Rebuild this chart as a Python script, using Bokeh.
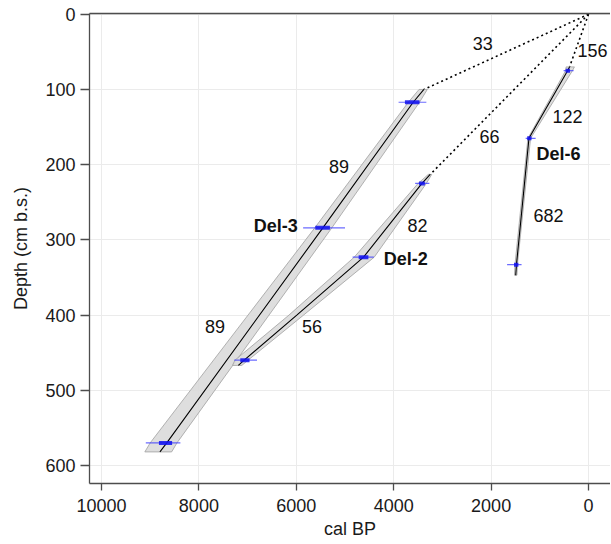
from bokeh.plotting import figure
from bokeh.models import Range1d, FixedTicker, LinearAxis
from bokeh.core.properties import value
from bokeh.embed import file_html
from bokeh.resources import INLINE

# ---------------- data ----------------
x_ticks = [10000, 8000, 6000, 4000, 2000, 0]
y_ticks = [0, 100, 200, 300, 400, 500, 600]

# Del-3 age-depth model
del3_depth = [100, 117, 284, 570, 582]
del3_age = [3380, 3600, 5455, 8660, 8800]
del3_band_young = [3310, 3470, 5270, 8450, 8560]
del3_band_old = [3480, 3700, 5620, 9000, 9110]
del3_s_depth = [117, 284, 570]
del3_s_age = [3600, 5455, 8665]
del3_s_min2 = [3330, 5000, 8380]
del3_s_max2 = [3900, 5860, 9090]
del3_s_min1 = [3470, 5310, 8550]
del3_s_max1 = [3770, 5610, 8820]

# Del-2 age-depth model
del2_depth = [213, 225, 323, 400, 460, 467]
del2_age = [3250, 3420, 4620, 5990, 7070, 7190]
del2_band_young = [3220, 3330, 4400, 5850, 6990, 7120]
del2_band_old = [3290, 3500, 4810, 6150, 7260, 7310]
del2_s_depth = [225, 323, 460]
del2_s_age = [3420, 4620, 7066]
del2_s_min2 = [3268, 4408, 6807]
del2_s_max2 = [3560, 4844, 7275]
del2_s_min1 = [3360, 4520, 6960]
del2_s_max1 = [3480, 4720, 7150]

# Del-6 age-depth model
del6_depth = [70, 75, 165, 333, 347]
del6_age = [390, 430, 1223, 1480, 1495]
del6_band_young = [290, 330, 1190, 1460, 1470]
del6_band_old = [460, 470, 1245, 1510, 1520]
del6_s_depth = [75, 165, 333]
del6_s_age = [430, 1223, 1479]
del6_s_min2 = [307, 1086, 1375]
del6_s_max2 = [512, 1291, 1672]
del6_s_min1 = [380, 1170, 1440]
del6_s_max1 = [470, 1260, 1530]

# extrapolation from the surface to each core top
surface_age = 0
surface_depth = 0

# annotations (sedimentation rates and core names)
label_text = ["33", "156", "122", "66", "Del-6", "89", "682", "Del-3", "82", "Del-2", "89", "56"]
label_age = [2172, -82, 430, 2035, 615, 5123, 820, 6420, 3512, 3754, 7668, 5676]
label_depth = [39, 48, 136, 162, 186, 202, 267, 281, 281, 326, 415, 415]
label_bold = [False, False, False, False, True, False, False, True, False, True, False, False]

FONT = "Liberation Sans"

p = figure(width=610, height=543, output_backend="svg", toolbar_location=None,
           x_range=Range1d(10246, -451), y_range=Range1d(624, -1),
           min_border_left=89, min_border_right=0, min_border_top=13, min_border_bottom=60,
           x_axis_label="cal BP", y_axis_label="Depth (cm b.s.)")
p.outline_line_color = None
p.background_fill_color = "white"
p.border_fill_color = "white"

for ax in (p.xaxis[0], p.yaxis[0]):
    ax.axis_line_color = "#4d4d4d"
    ax.axis_line_width = 1.3
    ax.major_tick_line_color = "#4d4d4d"
    ax.major_tick_line_width = 1.3
    ax.major_tick_in = 0
    ax.minor_tick_line_color = None
    ax.major_label_text_font = FONT
    ax.major_label_text_font_size = "18px"
    ax.major_label_text_color = "#1a1a1a"
    ax.axis_label_text_font = FONT
    ax.axis_label_text_font_size = "18px"
    ax.axis_label_text_font_style = "normal"
    ax.axis_label_text_color = "#1a1a1a"

p.xaxis[0].ticker = FixedTicker(ticks=x_ticks)
p.yaxis[0].ticker = FixedTicker(ticks=y_ticks)
p.xaxis[0].major_tick_out = 7
p.xaxis[0].major_label_standoff = 8
p.xaxis[0].axis_label_standoff = 4
p.yaxis[0].major_tick_out = 9
p.yaxis[0].major_label_standoff = 5
p.yaxis[0].axis_label_standoff = 11
p.yaxis[0].major_label_orientation = "horizontal"

top_axis = LinearAxis(ticker=FixedTicker(ticks=[]), major_label_text_font_size="0px",
                      major_tick_line_color=None, minor_tick_line_color=None,
                      axis_line_color="#4d4d4d", axis_line_width=1.3,
                      major_label_standoff=0, major_tick_out=0, major_tick_in=0)
p.add_layout(top_axis, "above")

p.xgrid.ticker = FixedTicker(ticks=x_ticks)
p.ygrid.ticker = FixedTicker(ticks=y_ticks)
p.xgrid.grid_line_color = "#ebebeb"
p.ygrid.grid_line_color = "#ebebeb"

cores = [
    (del3_depth, del3_age, del3_band_young, del3_band_old,
     del3_s_depth, del3_s_age, del3_s_min2, del3_s_max2, del3_s_min1, del3_s_max1),
    (del2_depth, del2_age, del2_band_young, del2_band_old,
     del2_s_depth, del2_s_age, del2_s_min2, del2_s_max2, del2_s_min1, del2_s_max1),
    (del6_depth, del6_age, del6_band_young, del6_band_old,
     del6_s_depth, del6_s_age, del6_s_min2, del6_s_max2, del6_s_min1, del6_s_max1),
]

for (d, a, by, bo, sd, sa, mn2, mx2, mn1, mx1) in cores:
    # dotted extrapolation to the surface
    p.line([surface_age, a[0]], [surface_depth, d[0]], line_color="black",
           line_width=1.6, line_dash="2 3")
    # uncertainty band
    p.patch(by + bo[::-1], d + d[::-1], fill_color="#dadada", fill_alpha=0.9,
            line_color="#a0a0a0", line_width=0.8)
    # model line
    p.line(a, d, line_color="black", line_width=1.1)
    # dated samples
    p.segment(x0=mn2, x1=mx2, y0=sd, y1=sd, line_color="#3a3aff", line_alpha=0.75, line_width=1.2)
    p.segment(x0=mn1, x1=mx1, y0=sd, y1=sd, line_color="#1010ee", line_alpha=0.85, line_width=4)

for txt, xa, yd, bold in zip(label_text, label_age, label_depth, label_bold):
    p.text(x=[xa], y=[yd], text=[txt], text_font=value(FONT), text_font_size="18px",
           text_font_style="bold" if bold else "normal", text_color="#111111",
           text_align="center", text_baseline="middle")

open("out.html", "w").write(file_html(p, INLINE))
